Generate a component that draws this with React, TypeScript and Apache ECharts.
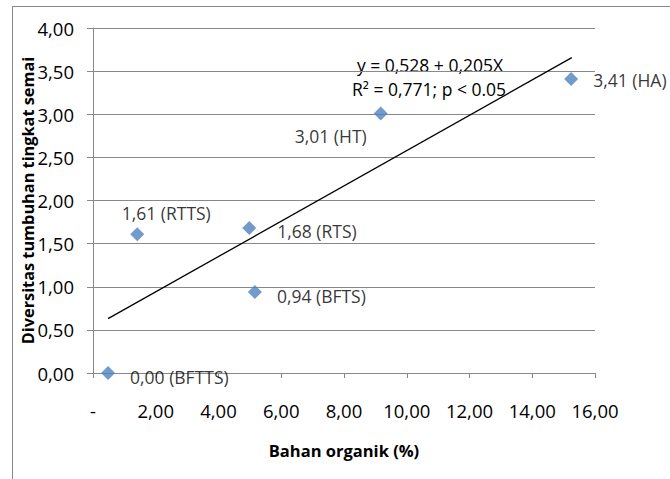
import React, { useEffect, useRef } from "react";
import * as echarts from "echarts";

const siteNames = ["BFTTS", "RTTS", "RTS", "BFTS", "HT", "HA"];
const organicMatter = [0.48, 1.41, 4.98, 5.16, 9.17, 15.24];
const diversity = [0.0, 1.61, 1.68, 0.94, 3.01, 3.41];
const trendX = [0.48, 15.26];
const trendY = [0.63, 3.656];
const equationLines = ["y = 0,528 + 0,205X", "R² = 0,771; p < 0.05"];
const xTitle = "Bahan organik (%)";
const yTitle = "Diversitas tumbuhan tingkat semai";

// label placement relative to the marker centre: [dx, dy, align]
const labelPlacement: Record<string, [number, number, string]> = {
  BFTTS: [22, 4, "left"],
  RTTS: [29, -21, "center"],
  RTS: [28, 3, "left"],
  BFTS: [22, 4, "left"],
  HT: [-14, 23, "right"],
  HA: [22, 1, "left"],
};

const FONT = "'Open Sans', Lato, sans-serif";
const GRAY = "#888888";
const SYM = 14;

const fmt = (v: number) => v.toFixed(2).replace(".", ",");

export default function App() {
  const ref = useRef<HTMLDivElement>(null);
  useEffect(() => {
    if (!ref.current) return;
    const chart = echarts.init(ref.current, null, { renderer: "svg" });
    const scatterData = siteNames.map((n, i) => {
      const [dx, dy, align] = labelPlacement[n];
      return {
        value: [organicMatter[i], diversity[i]],
        name: n,
        label: {
          show: true,
          position: [dx + SYM / 2, dy + SYM / 2],
          align,
          verticalAlign: "middle",
          color: "#000",
          formatter: `${fmt(diversity[i])} (${n})`,
        },
      };
    });
    const eqStyle = {
      fontFamily: FONT,
      fontSize: 17.5,
      fill: "#000",
      align: "center",
      verticalAlign: "middle",
    };
    chart.setOption({
      animation: false,
      textStyle: { fontFamily: FONT },
      grid: { left: 93, top: 28, right: 75, bottom: 106 },
      xAxis: {
        type: "value",
        min: 0,
        max: 16,
        interval: 2,
        name: xTitle,
        nameLocation: "middle",
        nameGap: 69,
        nameMoveOverlap: false,
        nameTextStyle: { fontFamily: FONT, fontWeight: "bold", fontSize: 16.5, color: "#000" },
        axisLine: { show: true, onZero: false, lineStyle: { color: GRAY, width: 1 } },
        axisTick: { show: true, length: 5, lineStyle: { color: GRAY } },
        axisLabel: {
          margin: 28,
          fontFamily: FONT,
          fontSize: 18.5,
          color: "#000",
          formatter: (v: number) => (v === 0 ? "-" : fmt(v)),
        },
        splitLine: { show: false },
      },
      yAxis: {
        type: "value",
        min: 0,
        max: 4,
        interval: 0.5,
        name: yTitle,
        nameLocation: "middle",
        nameRotate: 90,
        nameGap: 57,
        nameMoveOverlap: false,
        nameTextStyle: { fontFamily: FONT, fontWeight: "bold", fontSize: 16.3, color: "#000" },
        axisLine: { show: true, lineStyle: { color: GRAY, width: 1 } },
        axisTick: { show: true, length: 6, lineStyle: { color: GRAY } },
        axisLabel: {
          margin: 19,
          fontFamily: FONT,
          fontSize: 18.5,
          color: "#000",
          formatter: (v: number) => fmt(v),
        },
        splitLine: { show: true, lineStyle: { color: GRAY, width: 1 } },
      },
      graphic: [
        { type: "text", x: 430, y: 65, style: { ...eqStyle, text: equationLines[0] } },
        { type: "text", x: 429, y: 89, style: { ...eqStyle, text: equationLines[1] } },
      ],
      series: [
        {
          type: "line",
          data: trendX.map((x, i) => [x, trendY[i]]),
          showSymbol: false,
          symbol: "none",
          lineStyle: { color: "#000", width: 1.3 },
          z: 3,
        },
        {
          type: "scatter",
          symbol: "diamond",
          symbolSize: SYM,
          itemStyle: { color: "#4F81BD" },
          label: { fontFamily: FONT, fontSize: 17.5, color: "#000" },
          data: scatterData,
          z: 4,
        },
      ],
    });
    return () => chart.dispose();
  }, []);
  return (
    <div
      style={{
        position: "absolute",
        left: 0,
        top: 0,
        width: 670,
        height: 479,
        overflow: "hidden",
        background: "#fff",
      }}
    >
      <div
        style={{
          position: "absolute",
          left: 12,
          top: 6,
          width: 700,
          height: 500,
          border: `1px solid ${GRAY}`,
        }}
      />
      <div ref={ref} style={{ position: "absolute", left: 0, top: 0, width: 670, height: 479 }} />
    </div>
  );
}
